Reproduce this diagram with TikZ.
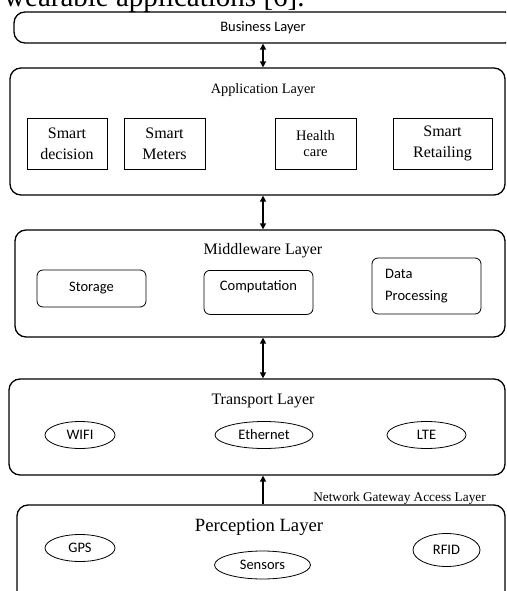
\documentclass[tikz,border=0pt]{standalone}
\usepackage{fontspec}
\setmainfont{Liberation Serif}
\newfontfamily\calib{Carlito}
\usetikzlibrary{shapes.geometric,arrows.meta,calc}
\begin{document}
\begin{tikzpicture}[x=1pt,y=1pt,
  >={Triangle[length=6pt,width=6pt]},
  layer/.style={draw,line width=1.3pt,rounded corners=11pt,inner sep=0pt},
  appbox/.style={draw,line width=0.8pt,inner sep=0pt,align=center,font=\fontsize{16}{21}\selectfont},
  midbox/.style={draw,line width=0.8pt,rounded corners=6pt,inner sep=0pt,font=\calib\fontsize{14.5}{21}\selectfont},
  oval/.style={draw,ellipse,line width=0.8pt,inner sep=0pt,font=\calib\fontsize{14.5}{17}\selectfont},
  conn/.style={line width=2pt}]
\useasboundingbox (0,0) rectangle (506,-591);
\clip (0,0) rectangle (506,-591);
% caption fragment
\node[anchor=base west,inner sep=0pt,font=\fontsize{29}{32}\selectfont] (cap) at (4,-7) {wearable applications [6].};
% layers
\node[layer,minimum width=502,minimum height=31] (biz) at (265,-27.5) {};
\node[font=\calib\fontsize{14.5}{17}\selectfont] (bizt) at (263,-28) {Business Layer};
\node[layer,minimum width=495,minimum height=127] (app) at (257.5,-131.5) {};
\node[layer,minimum width=490,minimum height=107] (mid) at (260,-283.5) {};
\node[layer,minimum width=496,minimum height=96] (tra) at (257,-427) {};
\node[layer,minimum width=488,minimum height=100] (per) at (261,-555) {};
\coordinate (ax) at (263,0);
% titles
\node[font=\fontsize{14.3}{17}\selectfont] (appt) at (263,-90) {Application Layer};
\node[font=\fontsize{16}{19}\selectfont] (midt) at (263,-251) {Middleware Layer};
\node[font=\fontsize{16}{19}\selectfont] (trat) at (263,-401) {Transport Layer};
\node[font=\fontsize{18.7}{22}\selectfont] (pert) at (259,-527) {Perception Layer};
\node[anchor=center,font=\fontsize{13.3}{15}\selectfont] (nga) at (399.5,-498) {Network Gateway Access Layer};
% application boxes
\node[appbox,minimum width=80,minimum height=51] (sd) at (67,-143.5) {Smart\\decision};
\node[appbox,minimum width=81,minimum height=51] (sm) at (164.5,-143.5) {Smart\\Meters};
\node[appbox,minimum width=81,minimum height=51,font=\fontsize{14.5}{16.5}\selectfont] (hc) at (315.5,-143.5) {Health\\care};
\node[appbox,minimum width=99,minimum height=51] (sr) at (442.5,-143.5) {Smart\\Retailing};
% middleware boxes
\node[midbox,minimum width=109,minimum height=37] (st) at (91.5,-288.5) {Storage};
\node[midbox,minimum width=109,minimum height=44,anchor=north] (co) at (258.5,-270) {};
\node[font=\calib\fontsize{14.5}{17}\selectfont] (cot) at (258.5,-287) {Computation};
\node[midbox,minimum width=109,minimum height=56] (dp) at (426.5,-286) {};
\node[anchor=west,align=left,inner sep=0pt,font=\calib\fontsize{14.5}{22}\selectfont] (dpt) at (385,-286) {Data\\Processing};
% transport ovals
\node[oval,minimum width=70,minimum height=27] (wifi) at (80,-435) {WIFI};
\node[oval,minimum width=98,minimum height=27] (eth) at (264,-435) {Ethernet};
\node[oval,minimum width=79,minimum height=27] (lte) at (426.5,-435) {LTE};
% perception ovals
\node[oval,minimum width=70,minimum height=27] (gps) at (80,-548) {GPS};
\node[oval,minimum width=96,minimum height=28] (sen) at (262.5,-565) {Sensors};
\node[oval,minimum width=67,minimum height=33] (rfid) at (446.5,-550) {RFID};
% connectors
\draw[conn,<->] (biz.south -| ax) -- (app.north -| ax);
\draw[conn,<->] (app.south -| ax) -- (mid.north -| ax);
\draw[conn,<->] (mid.south -| ax) -- (tra.north -| ax);
\draw[conn,->] (per.north -| ax) -- (tra.south -| ax);
\end{tikzpicture}
\end{document}
